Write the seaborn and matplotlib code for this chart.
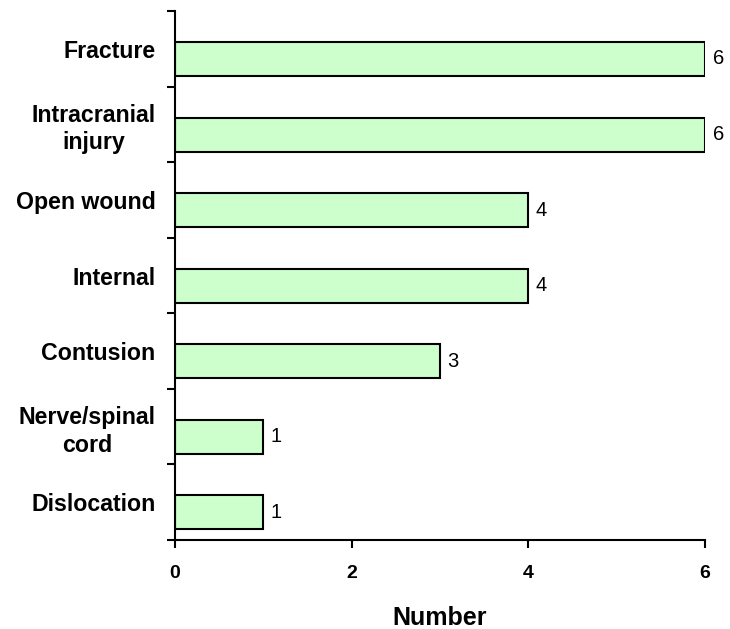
import numpy as np
import pandas as pd
import matplotlib
matplotlib.use("Agg")
import matplotlib.pyplot as plt
import seaborn as sns

categories = ["Fracture", "Intracranial\ninjury", "Open wound", "Internal",
              "Contusion", "Nerve/spinal\ncord", "Dislocation"]
counts = [6, 6, 4, 4, 3, 1, 1]
x_ticks = [0, 2, 4, 6]

df = pd.DataFrame({"category": categories, "count": counts})

sns.set_theme(style="white")
plt.rcParams["font.family"] = ["Liberation Sans", "DejaVu Sans"]

fig = plt.figure(figsize=(7.3, 6.29), dpi=100)
ax = fig.add_axes([0.2397, 0.1415, 0.7261, 0.8410])

sns.barplot(data=df, y="category", x="count", orient="h", ax=ax,
            color="#CCFFCC", saturation=1, width=0.45,
            edgecolor="black", linewidth=1.5)

# labels sit in the middle of each category slot, bars slightly below it
off = 0.135
n = len(categories)
ax.set_ylim(n - 0.5 - off, -0.5 - off)
ax.set_xlim(0, 6)

ax.set_yticks(np.arange(n + 1) - 0.5 - off)
ax.set_yticklabels([])
ax.set_yticks(np.arange(n) - off, minor=True)
ax.set_yticklabels(categories, minor=True, fontsize=16.7, fontweight="bold",
                   linespacing=1.25, multialignment="center")
ax.tick_params(axis="y", which="major", left=True, length=6, width=1.5,
               color="black")
ax.tick_params(axis="y", which="minor", left=True, length=0, pad=14,
               labelcolor="black")

ax.set_xticks(x_ticks)
ax.set_xticklabels([str(t) for t in x_ticks], fontsize=14, fontweight="bold")
ax.tick_params(axis="x", bottom=True, length=6, width=1.5, color="black",
               pad=12, labelcolor="black")

ax.set_xlabel("Number", fontsize=18, fontweight="bold", labelpad=17,
              color="black")
ax.set_ylabel("")

for side in ("top", "right"):
    ax.spines[side].set_visible(False)
for side in ("left", "bottom"):
    ax.spines[side].set_color("black")
    ax.spines[side].set_linewidth(1.5)

for container in ax.containers:
    ax.bar_label(container, labels=[str(v) for v in counts], padding=5.5,
                 fontsize=14.5, color="black")

fig.savefig("out.png", dpi=100)
